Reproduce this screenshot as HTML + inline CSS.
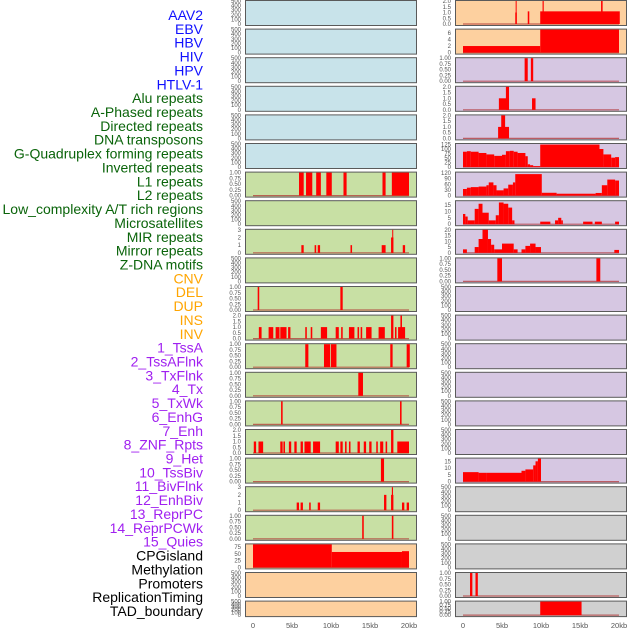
<!DOCTYPE html>
<html><head><meta charset="utf-8"><style>
body{margin:0;background:#fff;width:630px;height:630px;overflow:hidden;font-family:"Liberation Sans",sans-serif}
</style></head><body>
<svg id="chart" width="630" height="630" viewBox="0 0 630 630" xmlns="http://www.w3.org/2000/svg"></svg>
<script>
const labelNames=["AAV2","EBV","HBV","HIV","HPV","HTLV-1","Alu repeats","A-Phased repeats","Directed repeats","DNA transposons","G-Quadruplex forming repeats","Inverted repeats","L1 repeats","L2 repeats","Low_complexity A/T rich regions","Microsatellites","MIR repeats","Mirror repeats","Z-DNA motifs","CNV","DEL","DUP","INS","INV","1_TssA","2_TssAFlnk","3_TxFlnk","4_Tx","5_TxWk","6_EnhG","7_Enh","8_ZNF_Rpts","9_Het","10_TssBiv","11_BivFlnk","12_EnhBiv","13_ReprPC","14_ReprPCWk","15_Quies","CPGisland","Methylation","Promoters","ReplicationTiming","TAD_boundary"];
const labelColors=[...Array(6).fill("#1010ff"),...Array(13).fill("#0a640a"),...Array(5).fill("#ffa500"),...Array(15).fill("#a020f0"),...Array(5).fill("#000")];
const xTicks=[0,5,10,15,20];
const xTickLabels=["0","5kb","10kb","15kb","20kb"];
const E500=[0,100,200,300,400,500];
const T1=[0,0.25,0.5,0.75,1];
const T2=[0,0.5,1,1.5,2];
const T3=[0,1,2,3];
const leftTicks=[E500,E500,E500,E500,E500,E500,T1,E500,T3,E500,T1,T2,T1,T1,T1,T2,T1,T3,T1,[0,25,50,75],E500,E500];
const leftBg=["#c8e3ea","#c8e3ea","#c8e3ea","#c8e3ea","#c8e3ea","#c8e3ea","#c8e0a4","#c8e0a4","#c8e0a4","#c8e0a4","#c8e0a4","#c8e0a4","#c8e0a4","#c8e0a4","#c8e0a4","#c8e0a4","#c8e0a4","#c8e0a4","#c8e0a4","#fdd09f","#fdd09f","#fdd09f"];
const leftBars=[[],[],[],[],[],[],
[[5.9,6.5,1],[6.8,7.6,1],[8.1,8.7,1],[9.4,10.1,1],[11.6,12.0,1],[16.6,17.0,1],[17.8,20.0,1]],
[],
[[6.2,6.5,1],[7.9,8.1,1],[8.3,8.6,1],[12.5,12.7,1],[16.5,17.0,1],[17.7,18.0,2],[17.85,17.95,3],[19.2,19.5,1]],
[],
[[0.6,0.8,1],[11.2,11.5,1]],
[[0.75,1.1,1],[2.0,2.6,1],[2.9,3.4,1],[3.5,4.3,1],[4.5,4.8,1],[6.7,6.9,1],[7.4,7.6,1],[8.7,9.5,1],[10.6,11.0,1],[11.3,11.5,1],[12.3,13.0,1],[13.4,13.6,1],[13.8,14.0,1],[14.5,15.2,1],[16.1,16.9,1],[17.7,18.0,2],[18.2,18.4,1],[18.6,19.5,1],[18.9,19.1,2]],
[[6.7,7.1,1],[9.1,9.9,1],[10.0,10.7,1],[17.6,17.9,1],[19.7,20.1,1]],
[[13.5,14.1,1]],
[[3.6,3.8,1],[18.85,19.05,1]],
[[0.1,0.4,1],[0.7,1.3,1],[3.5,3.8,1],[3.9,4.1,1],[4.6,4.9,1],[5.3,5.6,1],[6.1,6.4,1],[6.6,7.4,1],[7.7,8.6,1],[10.6,11.0,1],[11.2,11.5,1],[11.8,12.0,1],[12.3,12.5,1],[13.4,13.7,1],[14.2,14.5,1],[14.9,15.2,1],[15.8,16.0,1],[16.3,16.7,1],[17.0,17.2,1],[17.7,18.0,2],[18.5,20.0,1]],
[[16.4,16.8,1]],
[[5.6,5.9,1],[6.1,6.4,1],[7.2,7.4,1],[8.3,8.6,1],[16.8,17.1,2],[17.7,18.0,2],[17.8,17.95,3],[19.1,19.4,1],[19.7,20.0,1]],
[[14.0,14.2,1],[17.8,18.0,1]],
[[0,10.1,85],[10.1,19.1,57],[19.1,20,60]],
[],[]];
const rightTicks=[T2,[0,2,4,6],T1,T2,T2,[0,25,50,75,100,125],[0,30,60,90,120],[0,5,10,15],[0,5,10,15,20],T1,E500,E500,E500,E500,E500,E500,[0,5,10,15],E500,E500,E500,T1,T1];
const rightBg=["#fdd09f","#fdd09f",...Array(15).fill("#d6c7e2"),"#d0d0d0","#d0d0d0","#d0d0d0","#d0d0d0","#d0d0d0"];
const rightMax=[2,7,1,2,2,128,122,18,20,1,500,500,500,500,500,500,17,500,500,500,1,1];
const leftMax=[500,500,500,500,500,500,1,500,3,500,1,2,1,1,1,2,1,3,1,85,500,500];
const rightBars=[
[[6.7,6.9,1],[6.75,6.85,2],[8.3,8.5,1.1],[9.9,20.1,1.1],[10.2,10.35,2],[17.7,17.9,2]],
[[0,9.9,2],[9.9,20,7]],
[[7.9,8.3,1],[8.7,9.0,1]],
[[4.6,5.9,1],[5.5,5.9,2],[8.85,9.3,1]],
[[4.5,5.9,1],[4.9,5.4,2]],
[[0,0.5,85],[0.5,1,88],[1,2,85],[2,3,78],[3,4,70],[4,5,62],[5,5.5,68],[5.5,6,88],[6,6.5,90],[6.5,7,85],[7,8,78],[8,8.3,60],[8.3,8.6,15],[8.6,9,10],[9,9.9,5],[9.9,17.5,125],[17.5,18,100],[18,19,70],[19,19.5,52],[19.5,20,55]],
[[0,0.5,35],[0.5,1,42],[1,2,45],[2,3,48],[3,3.3,55],[3.3,3.9,70],[3.9,4.3,55],[4.3,5.2,28],[5.2,5.8,38],[5.8,6.4,58],[6.4,6.7,70],[6.7,10.1,114],[10.1,12,15],[12,17,10],[17,17.8,14],[17.8,18.5,55],[18.5,19.5,85],[19.5,20,80]],
[[0,0.3,8],[0.3,0.6,6],[0.6,1.5,3],[1.5,2,12],[2,2.5,16],[2.5,3.3,9],[3.3,4.2,3],[4.2,4.6,7],[4.6,5.2,17],[5.2,5.8,16],[5.8,6.3,13],[6.3,6.6,3],[9.9,11.2,2],[11.8,12.2,3],[12.2,12.6,5],[12.6,12.8,3],[15.4,16.6,2],[16.9,17.8,2],[19.5,20,2]],
[[0,0.5,3],[1.5,2,5],[2,2.5,12],[2.5,3.2,20],[3.2,3.6,12],[3.6,4,7],[4,5,3],[5,6.5,8],[6.5,7,3],[7.5,8,3],[8,8.6,6],[8.6,9.3,8],[9.3,10,5],[19.4,20,2.5]],
[[4.4,5.0,1],[17.1,17.6,1]],
[],[],[],[],[],[],
[[0,2,7],[2,3,6.5],[3,7.5,6.5],[7.5,8,8],[8,9,9],[9,9.3,12],[9.3,9.6,15],[9.6,10,17]],
[],[],[],
[[0.9,1.2,1],[1.6,1.9,1]],
[[9.9,15.2,1]]];

const svg=document.getElementById('chart');
const NS="http://www.w3.org/2000/svg";
function mk(tag,attrs){const e=document.createElementNS(NS,tag);for(const k in attrs)e.setAttribute(k,attrs[k]);svg.appendChild(e);return e;}
const rowTop=i=>i*28.6;
const rowH=i=>i===21?15.5:25;
function xScale(colX0,kb){return colX0+8+kb*7.8;}
labelNames.forEach((t,i)=>{
  const e=mk('text',{x:203,y:15+i*13.86+5,'text-anchor':'end','font-size':'14',fill:labelColors[i]});
  e.textContent=t;
  
  
});
function panel(colX0,i,bg,ticks,bars,ymax,side){
  const y0=rowTop(i),W=171,PH=rowH(i);
  const r=mk('rect',{x:colX0+0.5,y:y0+0.5,width:W,height:PH,fill:bg,stroke:'#5a5a5a','stroke-width':1});
  
  
  const yS=v=>y0+PH-1-(v/ymax)*(PH-2);
  ticks.forEach(v=>{
    const t=mk('text',{x:colX0-4,y:yS(v)+2,'text-anchor':'end','font-size':'6',fill:'#555'});
    t.textContent=(ymax===1?v.toFixed(2):(ymax===2&&ticks.length===5?v.toFixed(1):v));
    
    
  });
  if(bars.length||ymax<=3||side==='right'&&ymax!==500){
    const b=mk('line',{x1:xScale(colX0,0),x2:xScale(colX0,20),y1:yS(0),y2:yS(0),stroke:'#b03030','stroke-width':1.2,opacity:0.7});
    
    
  }
  bars.forEach(([s,e,v])=>{
    const x1=xScale(colX0,s),x2=xScale(colX0,e);
    const bb=mk('rect',{x:x1,y:yS(Math.min(v,ymax)),width:Math.max(1,x2-x1),height:yS(0)-yS(Math.min(v,ymax)),fill:'#ff0000'});
    
    
  });
}
for(let i=0;i<22;i++){
  panel(245,i,leftBg[i],leftTicks[i],leftBars[i],leftMax[i],'left');
  panel(455,i,rightBg[i],rightTicks[i],rightBars[i],rightMax[i],'right');
}
[245,455].forEach((cx,c)=>{
  xTicks.forEach((v,j)=>{
    const t=mk('text',{x:xScale(cx,v),y:628,'text-anchor':'middle','font-size':'7.5',fill:'#555'});
    t.textContent=xTickLabels[j];
    
    
  });
});
</script>
</body></html>
